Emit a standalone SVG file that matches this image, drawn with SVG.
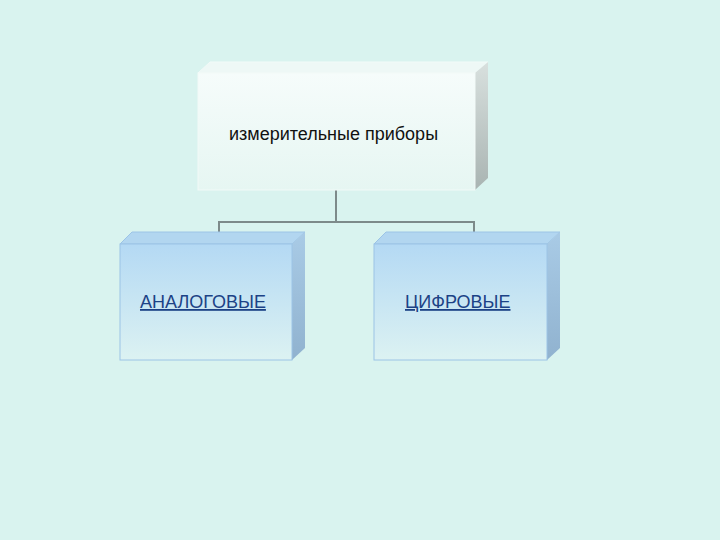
<svg xmlns="http://www.w3.org/2000/svg" width="720" height="540" viewBox="0 0 720 540">
<defs>
<linearGradient id="gTop" x1="0" y1="0" x2="0" y2="1"><stop offset="0" stop-color="#f6fcfb"/><stop offset="1" stop-color="#e6f6f2"/></linearGradient>
<linearGradient id="gTopSide" x1="0" y1="0" x2="0" y2="1"><stop offset="0" stop-color="#d8e0de"/><stop offset="1" stop-color="#a9b4b2"/></linearGradient>
<linearGradient id="gBlue" x1="0" y1="0" x2="0" y2="1"><stop offset="0" stop-color="#b4d9f4"/><stop offset="1" stop-color="#dcf2f2"/></linearGradient>
<linearGradient id="gBlueSide" x1="0" y1="0" x2="0" y2="1"><stop offset="0" stop-color="#a9cbe6"/><stop offset="1" stop-color="#90b2cf"/></linearGradient>
<style>
.bg{fill:#d9f3ef}
.edge{stroke:#f2faf8;stroke-width:1}
.bedge{stroke:#9cc4e6;stroke-width:1}
.t{font-family:"Liberation Sans",Arial,sans-serif;font-size:18px}
.lbl{fill:#1c4286;text-decoration:underline}
.conn{fill:none;stroke:#7d8a8a;stroke-width:2}
</style>
</defs>
<rect class="bg" x="0" y="0" width="720" height="540"/>
<g id="connectors">
<path class="conn" d="M336,190 V222 M219,232 V222 H474 V232"/>
</g>
<g id="root">
<polygon points="198,73 210,62 488,62 475,73" fill="#eef8f6" class="edge"/>
<polygon points="475,73 488,62 488,178 475,190" fill="url(#gTopSide)"/>
<rect x="198" y="73" width="277" height="117" fill="url(#gTop)" class="edge"/>
<text class="t" x="229" y="140" fill="#111">измерительные приборы</text>
</g>
<g id="analog">
<polygon points="120,244 132,232 305,232 292,244" fill="#b2d6f0" class="bedge"/>
<polygon points="292,244 305,232 305,348 292,360" fill="url(#gBlueSide)"/>
<rect x="120" y="244" width="172" height="116" fill="url(#gBlue)" class="bedge"/>
<text class="t lbl" x="140" y="308">АНАЛОГОВЫЕ</text>
</g>
<g id="digital">
<polygon points="374,244 386,232 560,232 547,244" fill="#b2d6f0" class="bedge"/>
<polygon points="547,244 560,232 560,348 547,360" fill="url(#gBlueSide)"/>
<rect x="374" y="244" width="173" height="116" fill="url(#gBlue)" class="bedge"/>
<text class="t lbl" x="405" y="308">ЦИФРОВЫЕ</text>
</g>
</svg>
